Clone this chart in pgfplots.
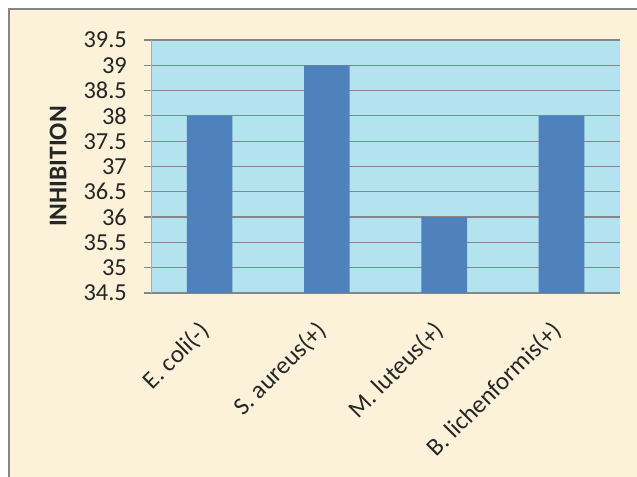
\documentclass[border=0pt]{standalone}
\usepackage{pgfplots}
\pgfplotsset{compat=1.18}
\usepackage{fontspec}
\setmainfont{Carlito}
\definecolor{parch}{RGB}{252,242,218}
\definecolor{water}{RGB}{178,227,238}
\definecolor{barblue}{RGB}{79,129,189}
\definecolor{gridgray}{RGB}{134,134,134}
\definecolor{txt}{RGB}{38,38,38}
\begin{document}
\begin{tikzpicture}[x=1bp,y=1bp]
\useasboundingbox (0,0) rectangle (637,477);
\fill[white] (0,0) rectangle (637,477);
\fill[parch] (9,0) rectangle (637,468);
\draw[gridgray, line width=1.2bp] (9,0) -- (9,468) -- (637,468);
\begin{axis}[
  at={(151bp,184bp)}, anchor=south west,
  scale only axis, width=469bp, height=253bp,
  xmin=-0.5, xmax=3.5, ymin=34.5, ymax=39.5,
  axis background/.style={fill=water},
  ytick={34.5,35,35.5,36,36.5,37,37.5,38,38.5,39,39.5},
  yticklabels={34.5,35,35.5,36,36.5,37,37.5,38,38.5,39,39.5},
  ymajorgrids, grid style={gridgray, line width=1.2bp},
  y axis line style={gridgray!70, line width=1bp},
  x axis line style={gridgray, line width=1.2bp},
  axis x line*=bottom, axis y line*=left,
  ytick style={gridgray, line width=1.2bp},
  tick align=outside, major tick length=7bp,
  xtick={0,1,2,3},
  xticklabels={E. coli(-),S. aureus(+),M. luteus(+),B. lichenformis(+)},
  xtick style={draw=none},
  extra x ticks={-0.5,0.5,1.5,2.5,3.5},
  extra x tick labels={},
  extra x tick style={xtick style={gridgray, line width=1.2bp}, major tick length=7bp, grid=none},
  yticklabel style={font=\fontsize{24.5}{26}\selectfont, text=txt, inner sep=0pt, xshift=-17bp},
  xticklabel style={yshift=-27bp, xshift=-4bp, font=\fontsize{25}{27}\selectfont, text=txt, rotate=45, anchor=east, inner sep=0pt},
  ylabel={INHIBITION},
  ylabel style={font=\fontsize{25.5}{27}\selectfont\bfseries, text=txt, at={(axis description cs:-0.198,0.5)}, anchor=center},
  /pgf/number format/assume math mode=true,
]
\addplot[ybar, bar width=0.39, fill=barblue, draw=none] coordinates {(0,38) (1,39) (2,36) (3,38)};
\end{axis}
\end{tikzpicture}
\end{document}
